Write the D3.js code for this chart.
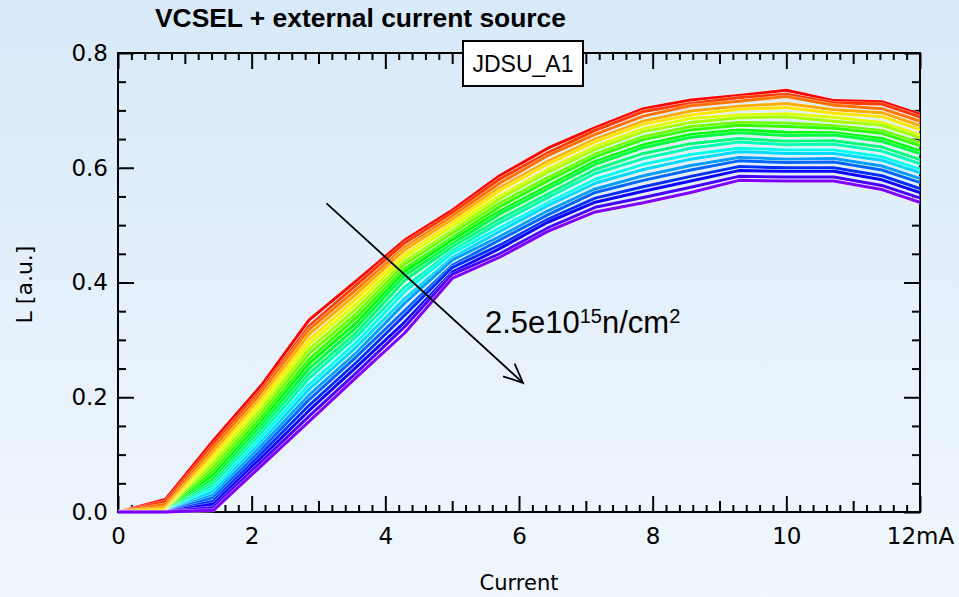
<!DOCTYPE html>
<html>
<head>
<meta charset="utf-8">
<script src="https://cdn.jsdelivr.net/npm/d3@7"></script>
<style>
  html, body { margin: 0; padding: 0; overflow: hidden; background: #e6f1fc; }
  svg { display: block; }
</style>
</head>
<body>
<svg id="chart" width="959" height="597"></svg>
<script>
// Drive current (mA) at which the light output was sampled
const currentMA = [0, 0.71, 1.43, 2.14, 2.86, 3.57, 4.29, 5.00, 5.71, 6.43, 7.14, 7.86, 8.57, 9.29, 10.00, 10.71, 11.43, 12.14];

// Light output L [a.u.], one sweep per irradiation step (first = least irradiated)
const run01 = [0, 0.022, 0.125, 0.220, 0.335, 0.403, 0.474, 0.526, 0.586, 0.634, 0.670, 0.703, 0.718, 0.726, 0.735, 0.717, 0.715, 0.688];
const run02 = [0, 0.018, 0.118, 0.212, 0.324, 0.396, 0.469, 0.521, 0.580, 0.626, 0.665, 0.698, 0.712, 0.722, 0.728, 0.713, 0.711, 0.683];
const run03 = [0, 0.013, 0.112, 0.207, 0.318, 0.388, 0.461, 0.515, 0.573, 0.621, 0.658, 0.690, 0.708, 0.716, 0.724, 0.709, 0.703, 0.676];
const run04 = [0, 0.008, 0.105, 0.199, 0.310, 0.380, 0.457, 0.510, 0.565, 0.611, 0.650, 0.681, 0.699, 0.707, 0.712, 0.701, 0.696, 0.668];
const run05 = [0, 0.004, 0.098, 0.193, 0.300, 0.372, 0.449, 0.503, 0.560, 0.606, 0.645, 0.676, 0.692, 0.702, 0.705, 0.695, 0.689, 0.661];
const run06 = [0, 0, 0.092, 0.185, 0.293, 0.363, 0.445, 0.498, 0.551, 0.597, 0.637, 0.668, 0.686, 0.692, 0.694, 0.688, 0.679, 0.652];
const run07 = [0, 0, 0.085, 0.178, 0.284, 0.355, 0.437, 0.490, 0.546, 0.592, 0.632, 0.663, 0.679, 0.687, 0.689, 0.681, 0.674, 0.647];
const run08 = [0, 0, 0.078, 0.171, 0.276, 0.346, 0.432, 0.486, 0.538, 0.583, 0.624, 0.654, 0.672, 0.679, 0.678, 0.673, 0.665, 0.638];
const run09 = [0, 0, 0.071, 0.164, 0.266, 0.339, 0.424, 0.478, 0.532, 0.577, 0.619, 0.649, 0.666, 0.674, 0.672, 0.669, 0.660, 0.633];
const run10 = [0, 0, 0.065, 0.157, 0.259, 0.330, 0.419, 0.474, 0.524, 0.568, 0.611, 0.640, 0.658, 0.666, 0.662, 0.661, 0.651, 0.624];
const run11 = [0, 0, 0.058, 0.150, 0.250, 0.322, 0.412, 0.467, 0.519, 0.563, 0.606, 0.635, 0.653, 0.661, 0.656, 0.657, 0.646, 0.619];
const run12 = [0, 0, 0.052, 0.143, 0.241, 0.313, 0.404, 0.462, 0.510, 0.554, 0.597, 0.625, 0.642, 0.651, 0.646, 0.647, 0.636, 0.609];
const run13 = [0, 0, 0.047, 0.136, 0.233, 0.306, 0.392, 0.455, 0.504, 0.548, 0.590, 0.616, 0.634, 0.645, 0.640, 0.641, 0.629, 0.602];
const run14 = [0, 0, 0.041, 0.129, 0.222, 0.296, 0.384, 0.451, 0.495, 0.539, 0.580, 0.606, 0.623, 0.634, 0.631, 0.631, 0.619, 0.592];
const run15 = [0, 0, 0.036, 0.122, 0.214, 0.288, 0.372, 0.443, 0.489, 0.534, 0.573, 0.597, 0.615, 0.628, 0.625, 0.625, 0.613, 0.586];
const run16 = [0, 0, 0.030, 0.115, 0.204, 0.278, 0.364, 0.439, 0.480, 0.525, 0.563, 0.586, 0.604, 0.618, 0.615, 0.616, 0.603, 0.576];
const run17 = [0, 0, 0.025, 0.108, 0.196, 0.271, 0.351, 0.430, 0.474, 0.518, 0.557, 0.578, 0.596, 0.612, 0.609, 0.610, 0.596, 0.569];
const run18 = [0, 0, 0.019, 0.101, 0.186, 0.261, 0.343, 0.426, 0.465, 0.510, 0.547, 0.567, 0.585, 0.602, 0.600, 0.600, 0.586, 0.558];
const run19 = [0, 0, 0.014, 0.094, 0.177, 0.253, 0.331, 0.418, 0.459, 0.505, 0.540, 0.559, 0.577, 0.595, 0.594, 0.594, 0.579, 0.551];
const run20 = [0, 0, 0.008, 0.087, 0.167, 0.243, 0.323, 0.414, 0.450, 0.495, 0.531, 0.548, 0.566, 0.585, 0.584, 0.584, 0.569, 0.542];
const run21 = [0, 0, 0.003, 0.080, 0.158, 0.235, 0.312, 0.407, 0.444, 0.489, 0.523, 0.539, 0.557, 0.578, 0.577, 0.577, 0.562, 0.534];

const runs = [run01, run02, run03, run04, run05, run06, run07, run08, run09, run10, run11,
              run12, run13, run14, run15, run16, run17, run18, run19, run20, run21];

// Axis ticks and labels
const xMajorTicks = [0, 2, 4, 6, 8, 10, 12];
const xMajorLabels = ["0", "2", "4", "6", "8", "10", "12mA"];
const xMidTicks = [1, 3, 5, 7, 9, 11];
const xMinorTicks = [0.2,0.4,0.6,0.8,1.2,1.4,1.6,1.8,2.2,2.4,2.6,2.8,3.2,3.4,3.6,3.8,4.2,4.4,4.6,4.8,
                     5.2,5.4,5.6,5.8,6.2,6.4,6.6,6.8,7.2,7.4,7.6,7.8,8.2,8.4,8.6,8.8,9.2,9.4,9.6,9.8,
                     10.2,10.4,10.6,10.8,11.2,11.4,11.6,11.8];
const yMajorTicks = [0, 0.2, 0.4, 0.6, 0.8];
const yMajorLabels = ["0.0", "0.2", "0.4", "0.6", "0.8"];
const yMinorTicks = [0.05,0.1,0.15,0.25,0.3,0.35,0.45,0.5,0.55,0.65,0.7,0.75];

const titleText = "VCSEL + external current source";
const deviceLabel = "JDSU_A1";
const xTitle = "Current";
const yTitle = "L [a.u.]";

// Fluence arrow (data coordinates: mA, a.u.)
const arrowFrom = [3.12, 0.538];
const arrowTo = [6.06, 0.225];
const fluenceAnchor = [5.49, 0.312];

const W = 959, H = 597;
const plot = { left: 118, right: 920, top: 53, bottom: 512 };

const svg = d3.select("#chart");

// background wash
const defs = svg.append("defs");
const grad = defs.append("linearGradient").attr("id", "bg").attr("x1", 0).attr("y1", 0).attr("x2", 0).attr("y2", 1);
grad.append("stop").attr("offset", "0%").attr("stop-color", "#d8e9f9");
grad.append("stop").attr("offset", "100%").attr("stop-color", "#f0f7fe");
svg.append("rect").attr("width", W).attr("height", H).attr("fill", "url(#bg)");

defs.append("clipPath").attr("id", "plotclip")
  .append("rect")
  .attr("x", plot.left).attr("y", plot.top - 3)
  .attr("width", plot.right - plot.left).attr("height", plot.bottom - plot.top + 6);

const x = d3.scaleLinear().domain([0, 12]).range([plot.left, plot.right]);
const y = d3.scaleLinear().domain([0, 0.8]).range([plot.bottom, plot.top]);

const tickFont = "'DejaVu Sans', Verdana, sans-serif";

function styleAxis(g) {
  g.select(".domain").remove();
  g.selectAll(".tick line").attr("stroke", "#000").attr("stroke-width", 2);
}

// frame
svg.append("rect")
  .attr("x", plot.left).attr("y", plot.top)
  .attr("width", plot.right - plot.left).attr("height", plot.bottom - plot.top)
  .attr("fill", "none").attr("stroke", "#000").attr("stroke-width", 2);

// bottom axis (ticks pointing inward)
svg.append("g").attr("transform", `translate(0,${plot.bottom})`)
  .call(d3.axisBottom(x).tickValues(xMinorTicks).tickSize(-7).tickFormat("")).call(styleAxis);
svg.append("g").attr("transform", `translate(0,${plot.bottom})`)
  .call(d3.axisBottom(x).tickValues(xMidTicks).tickSize(-11).tickFormat("")).call(styleAxis);
const xAxisMajor = svg.append("g").attr("transform", `translate(0,${plot.bottom})`)
  .call(d3.axisBottom(x).tickValues(xMajorTicks).tickSize(-16).tickPadding(16)
        .tickFormat((d, i) => xMajorLabels[i]))
  .call(styleAxis);
xAxisMajor.selectAll("text").attr("font-family", tickFont).attr("font-size", 23).attr("fill", "#000");

// top axis
svg.append("g").attr("transform", `translate(0,${plot.top})`)
  .call(d3.axisTop(x).tickValues(xMinorTicks).tickSize(-7).tickFormat("")).call(styleAxis);
svg.append("g").attr("transform", `translate(0,${plot.top})`)
  .call(d3.axisTop(x).tickValues(xMidTicks).tickSize(-11).tickFormat("")).call(styleAxis);
svg.append("g").attr("transform", `translate(0,${plot.top})`)
  .call(d3.axisTop(x).tickValues(xMajorTicks).tickSize(-16).tickFormat("")).call(styleAxis);

// left axis
svg.append("g").attr("transform", `translate(${plot.left},0)`)
  .call(d3.axisLeft(y).tickValues(yMinorTicks).tickSize(-8).tickFormat("")).call(styleAxis);
const yAxisMajor = svg.append("g").attr("transform", `translate(${plot.left},0)`)
  .call(d3.axisLeft(y).tickValues(yMajorTicks).tickSize(-16).tickPadding(10)
        .tickFormat((d, i) => yMajorLabels[i]))
  .call(styleAxis);
yAxisMajor.selectAll("text").attr("font-family", tickFont).attr("font-size", 23).attr("fill", "#000");

// right axis
svg.append("g").attr("transform", `translate(${plot.right},0)`)
  .call(d3.axisRight(y).tickValues(yMinorTicks).tickSize(-8).tickFormat("")).call(styleAxis);
svg.append("g").attr("transform", `translate(${plot.right},0)`)
  .call(d3.axisRight(y).tickValues(yMajorTicks).tickSize(-16).tickFormat("")).call(styleAxis);

// L-I curves, red (least irradiated) to violet (most irradiated)
const line = d3.line().x((d, i) => x(currentMA[i])).y(d => y(d));
const hue = d3.scaleLinear().domain([0, runs.length - 1]).range([0, 270]);
const curves = svg.append("g").attr("clip-path", "url(#plotclip)");
runs.forEach((run, i) => {
  curves.append("path").datum(run).attr("d", line)
    .attr("fill", "none").attr("stroke", "#ffffff").attr("stroke-opacity", 0.6)
    .attr("stroke-width", 4).attr("stroke-linejoin", "round");
  curves.append("path").datum(run).attr("d", line)
    .attr("fill", "none").attr("stroke", d3.hsl(hue(i), 1, 0.5).formatHex())
    .attr("stroke-width", 3).attr("stroke-linejoin", "round");
});

// title
svg.append("text").attr("x", 155).attr("y", 27)
  .attr("font-family", "'Liberation Sans', Arial, sans-serif").attr("font-weight", "bold")
  .attr("font-size", 26.4).attr("fill", "#000").text(titleText);

// device label box
svg.append("rect").attr("x", 463).attr("y", 41).attr("width", 120).attr("height", 45)
  .attr("fill", "#fff").attr("stroke", "#000").attr("stroke-width", 2);
svg.append("text").attr("x", 523).attr("y", 72).attr("text-anchor", "middle")
  .attr("font-family", "'Liberation Sans', Arial, sans-serif").attr("font-size", 23)
  .attr("fill", "#000").text(deviceLabel);

// axis titles
svg.append("text").attr("x", (plot.left + plot.right) / 2).attr("y", 590).attr("text-anchor", "middle")
  .attr("font-family", tickFont).attr("font-size", 21).attr("fill", "#000").text(xTitle);
svg.append("text").attr("transform", `translate(32,${(plot.top + plot.bottom) / 2 + 2}) rotate(-90)`)
  .attr("text-anchor", "middle")
  .attr("font-family", tickFont).attr("font-size", 22).attr("fill", "#000").text(yTitle);

// fluence arrow
const ax0 = x(arrowFrom[0]), ay0 = y(arrowFrom[1]), ax1 = x(arrowTo[0]), ay1 = y(arrowTo[1]);
svg.append("line").attr("x1", ax0).attr("y1", ay0).attr("x2", ax1).attr("y2", ay1)
  .attr("stroke", "#000").attr("stroke-width", 1.8);
const ang = Math.atan2(ay1 - ay0, ax1 - ax0);
const headLen = 21, spread = 0.42;
const head = [
  [ax1 - headLen * Math.cos(ang - spread), ay1 - headLen * Math.sin(ang - spread)],
  [ax1, ay1],
  [ax1 - headLen * Math.cos(ang + spread), ay1 - headLen * Math.sin(ang + spread)]
];
svg.append("path").attr("d", d3.line()(head)).attr("fill", "none")
  .attr("stroke", "#000").attr("stroke-width", 1.8).attr("stroke-linejoin", "miter");

const ft = svg.append("text").attr("x", x(fluenceAnchor[0])).attr("y", y(fluenceAnchor[1]))
  .attr("font-family", "'Liberation Sans', Arial, sans-serif").attr("font-size", 31).attr("fill", "#000");
ft.append("tspan").text("2.5e10");
ft.append("tspan").attr("font-size", 20).attr("dy", -10).text("15");
ft.append("tspan").attr("dy", 10).text("n/cm");
ft.append("tspan").attr("font-size", 20).attr("dy", -10).text("2");
</script>
</body>
</html>
